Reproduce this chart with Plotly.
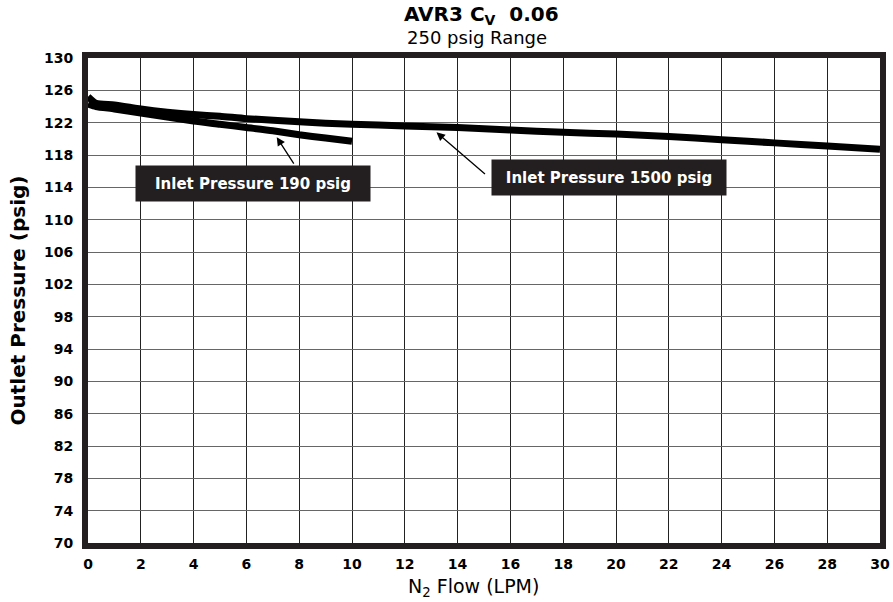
import plotly.graph_objects as go

# Data
flow_190 = [0, 0.3, 1, 2, 3, 4, 5, 6, 7, 8, 9, 10]
pressure_190 = [124.3, 124.0, 123.7, 123.2, 122.7, 122.2, 121.8, 121.4, 121.0, 120.5, 120.1, 119.7]

flow_1500 = [0, 0.3, 1, 2, 3, 4, 5, 6, 8, 10, 12, 14, 16, 18, 20, 22, 24, 26, 28, 30]
pressure_1500 = [125.2, 124.4, 124.2, 123.7, 123.3, 123.0, 122.8, 122.5, 122.1, 121.8,
                 121.6, 121.4, 121.1, 120.8, 120.6, 120.3, 119.9, 119.5, 119.1, 118.7]

x_ticks = list(range(0, 31, 2))
y_ticks = list(range(70, 131, 4))

DARK = "#231f20"
HEAVY = "DejaVu Sans"

fig = go.Figure()
fig.add_trace(go.Scatter(x=flow_1500, y=pressure_1500, mode="lines",
                         line=dict(color="black", width=7, shape="spline", smoothing=0.6),
                         showlegend=False, hoverinfo="skip"))
fig.add_trace(go.Scatter(x=flow_190, y=pressure_190, mode="lines",
                         line=dict(color="black", width=7, shape="spline", smoothing=0.6),
                         showlegend=False, hoverinfo="skip"))

tickfont = dict(family=HEAVY, size=14, color="black", weight="bold")

fig.update_xaxes(range=[0, 30], tickvals=x_ticks, ticktext=[str(v) for v in x_ticks],
                 showgrid=True, gridcolor="#222222", gridwidth=1,
                 showline=True, linecolor=DARK, linewidth=6, mirror=True,
                 ticks="", ticklabelstandoff=3, tickfont=tickfont, zeroline=False,
                 automargin=False)
fig.update_yaxes(range=[70, 130], tickvals=y_ticks, ticktext=[str(v) for v in y_ticks],
                 showgrid=True, gridcolor="#666666", gridwidth=1,
                 showline=True, linecolor=DARK, linewidth=6, mirror=True,
                 ticks="", ticklabelstandoff=6, tickfont=tickfont, zeroline=False,
                 automargin=False)

annotations = [
    # Titles
    dict(text="AVR3 C<sub>V</sub>  0.06", xref="paper", yref="paper", x=0.497, y=1,
         xanchor="center", yanchor="middle", yshift=43, showarrow=False,
         font=dict(family=HEAVY, size=20, color="black", weight="bold")),
    dict(text="250 psig Range", xref="paper", yref="paper", x=0.4917, y=1,
         xanchor="center", yanchor="middle", yshift=21, showarrow=False,
         font=dict(family="DejaVu Sans", size=18, color="black")),
    # Axis titles
    dict(text="N<sub>2</sub> Flow (LPM)", xref="paper", yref="paper", x=0.487, y=0,
         xanchor="center", yanchor="middle", yshift=-44, showarrow=False,
         font=dict(family="DejaVu Sans", size=19, color="black")),
    dict(text="Outlet Pressure (psig)", xref="paper", yref="paper", x=0, y=0.5,
         xanchor="center", yanchor="middle", xshift=-71, textangle=-90, showarrow=False,
         font=dict(family=HEAVY, size=20, color="black", weight="bold")),
    # Arrows
    dict(text="", x=7.15, y=120.2, xref="x", yref="y", ax=18, ay=28,
         showarrow=True, arrowhead=2, arrowsize=1.3, arrowwidth=1.3, arrowcolor="black"),
    dict(text="", x=13.2, y=120.8, xref="x", yref="y", ax=50, ay=43,
         showarrow=True, arrowhead=2, arrowsize=1.3, arrowwidth=1.3, arrowcolor="black"),
    # Label boxes
    dict(text="Inlet Pressure 190 psig", x=6.25, y=114.43, xref="x", yref="y",
         showarrow=False, bgcolor=DARK, width=234, height=35, borderpad=0,
         xanchor="center", yanchor="middle",
         font=dict(family=HEAVY, size=15, color="white", weight="bold")),
    dict(text="Inlet Pressure 1500 psig", x=19.73, y=115.26, xref="x", yref="y",
         showarrow=False, bgcolor=DARK, width=234, height=35, borderpad=0,
         xanchor="center", yanchor="middle",
         font=dict(family=HEAVY, size=15, color="white", weight="bold")),
]

fig.update_layout(width=893, height=602, margin=dict(l=88, r=13, t=58, b=59, autoexpand=False),
                  paper_bgcolor="white", plot_bgcolor="white",
                  annotations=annotations, showlegend=False)

fig.write_html("out.html")
